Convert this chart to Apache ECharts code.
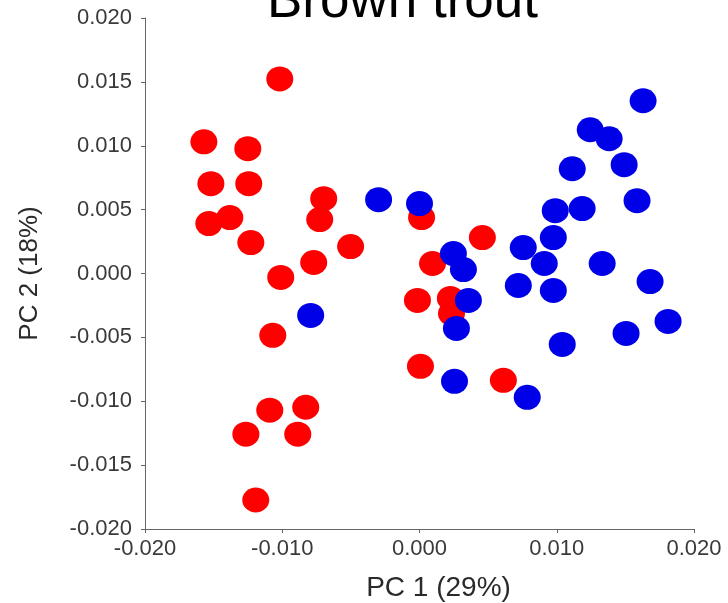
<!DOCTYPE html>
<html>
<head>
<meta charset="utf-8">
<script src="https://cdn.jsdelivr.net/npm/echarts@6/dist/echarts.min.js"></script>
<style>
html,body{margin:0;padding:0;background:#fff;}
#chart{width:728px;height:603px;}
</style>
</head>
<body>
<div id="chart"></div>
<script>
const chartTitle = 'Brown trout';
const xAxisName = 'PC 1 (29%)';
const yAxisName = 'PC 2 (18%)';

const redX = [-0.01018, -0.01571, -0.01251, -0.01520, -0.01244, -0.01535, -0.01382, -0.01229, -0.00698, -0.00727,
  -0.00502, -0.00771, -0.01011, -0.01069, -0.01091, -0.00829, -0.01265, -0.00887, -0.01193,
  0.00015, 0.00095, 0.00458, -0.00015, 0.00225, 0.00233, 0.00007, 0.00611];
const redY = [0.01523, 0.01031, 0.00977, 0.00703, 0.00703, 0.00391, 0.00438, 0.00242, 0.00586, 0.00422,
  0.00211, 0.00086, -0.00031, -0.00484, -0.01070, -0.01047, -0.01258, -0.01258, -0.01773,
  0.00438, 0.00078, 0.00281, -0.00211, -0.00195, -0.00313, -0.00727, -0.00836];

const blueX = [-0.00298, 0.00000, -0.00793, 0.00247, 0.00320, 0.00356, 0.00269, 0.00255, 0.00785, 0.00756,
  0.00720, 0.00909, 0.00975, 0.00975, 0.00989, 0.01185, 0.01113, 0.01244, 0.01382, 0.01491,
  0.01585, 0.01629, 0.01331, 0.01680, 0.01040, 0.01505, 0.01811];
const blueY = [0.00578, 0.00547, -0.00328, 0.00156, 0.00031, -0.00211, -0.00430, -0.00844, -0.00969, 0.00203,
  -0.00094, 0.00078, -0.00133, 0.00281, 0.00492, 0.00508, 0.00820, 0.01125, 0.01055, 0.00852,
  0.00570, 0.01352, 0.00078, -0.00063, -0.00555, -0.00469, -0.00375];

const redData = redX.map((x, i) => [x, redY[i]]);
const blueData = blueX.map((x, i) => [x, blueY[i]]);

const chart = echarts.init(document.getElementById('chart'), null, {renderer: 'canvas'});
const labelStyle = {color: '#3a3a3a', fontSize: 22, fontFamily: 'Liberation Sans, Arial, sans-serif'};
chart.setOption({
  animation: false,
  backgroundColor: '#fff',
  title: {
    text: chartTitle,
    left: 267,
    top: -24,
    padding: 0,
    textStyle: {color: '#000', fontSize: 53, fontWeight: 'normal', fontFamily: 'Liberation Sans, Arial, sans-serif', lineHeight: 53}
  },
  grid: {left: 145, right: 34, top: 18, bottom: 74, containLabel: false, outerBoundsMode: 'none'},
  xAxis: {
    type: 'value', min: -0.02, max: 0.02, interval: 0.01,
    name: xAxisName, nameLocation: 'middle', nameGap: 45,
    nameTextStyle: {color: '#2a2a2a', fontSize: 28, fontFamily: 'Liberation Sans, Arial, sans-serif', padding: [0, 0, 0, 38]},
    axisLine: {show: true, onZero: false, lineStyle: {color: '#666', width: 1}},
    axisTick: {show: true, length: 4, lineStyle: {color: '#666'}},
    axisLabel: Object.assign({margin: 9, formatter: v => v.toFixed(3)}, labelStyle),
    splitLine: {show: false}
  },
  yAxis: {
    type: 'value', min: -0.02, max: 0.02, interval: 0.005,
    name: yAxisName, nameLocation: 'middle', nameGap: 102,
    nameTextStyle: {color: '#2a2a2a', fontSize: 26, fontFamily: 'Liberation Sans, Arial, sans-serif'},
    axisLine: {show: true, onZero: false, lineStyle: {color: '#666', width: 1}},
    axisTick: {show: true, length: 4, lineStyle: {color: '#666'}},
    axisLabel: Object.assign({margin: 13, formatter: v => v.toFixed(3)}, labelStyle),
    splitLine: {show: false}
  },
  series: [
    {type: 'scatter', data: redData, symbol: 'circle', symbolSize: [27, 25], itemStyle: {color: '#ff0000', opacity: 1}, z: 2},
    {type: 'scatter', data: blueData, symbol: 'circle', symbolSize: [27, 25], itemStyle: {color: '#0000e8', opacity: 1}, z: 3}
  ]
});
</script>
</body>
</html>
